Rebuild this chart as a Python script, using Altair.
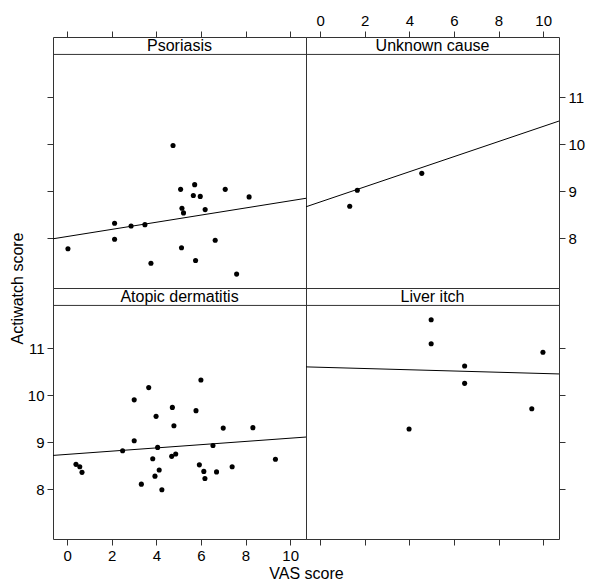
import altair as alt
import pandas as pd

# ---- data ----
pso_vas = [0.04, 2.13, 2.13, 2.87, 3.49, 3.76, 4.75, 5.09, 5.15, 5.22, 5.13,
           5.72, 5.66, 5.97, 6.19, 5.76, 6.64, 7.09, 7.60, 8.16]
pso_act = [7.78, 8.32, 7.98, 8.26, 8.29, 7.47, 9.97, 9.04, 8.64, 8.54, 7.80,
           9.14, 8.91, 8.89, 8.61, 7.53, 7.96, 9.04, 7.24, 8.88]

unk_vas = [1.33, 1.67, 4.56]
unk_act = [8.68, 9.02, 9.38]

ato_vas = [0.40, 0.57, 0.67, 2.49, 3.01, 3.01, 3.33, 3.66, 3.84, 3.99, 3.94,
           4.06, 4.13, 4.25, 4.72, 4.79, 4.69, 4.87, 5.78, 6.00, 5.93, 6.13,
           6.18, 6.54, 6.70, 7.00, 7.40, 8.33, 9.34]
ato_act = [8.53, 8.48, 8.36, 8.82, 9.90, 9.03, 8.11, 10.16, 8.65, 9.55, 8.28,
           8.89, 8.41, 7.99, 9.74, 9.35, 8.70, 8.75, 9.67, 10.32, 8.52, 8.38,
           8.23, 8.93, 8.37, 9.30, 8.48, 9.31, 8.64]

liv_vas = [4.98, 4.98, 3.99, 6.48, 6.48, 9.49, 9.99]
liv_act = [11.60, 11.09, 9.28, 10.62, 10.25, 9.71, 10.91]

# fitted lines: value at the left and right edges of the panel
fit_vas = [-0.63, 10.71]
pso_fit = [7.99, 8.85]
unk_fit = [8.67, 10.49]
ato_fit = [8.72, 9.11]
liv_fit = [10.60, 10.45]

x_ticks = [0, 2, 4, 6, 8, 10]
y_ticks = [8, 9, 10, 11]

X_DOMAIN = [-0.63, 10.71]
Y_DOMAIN = [6.945, 12.275]
STRIP_BOTTOM = 11.905
STRIP_MID = 12.09

W, H = 253, 251
FONT = "Liberation Sans"
FRAME = "#333333"


def axis(orient, labels, title=None, **kw):
    args = dict(orient=orient, labels=labels, ticks=True, tickSize=6,
                tickColor=FRAME, tickWidth=1, domain=False, grid=False,
                labelFont=FONT, labelFontSize=15, labelColor="black",
                labelPadding=3, title=title)
    if title is not None:
        args.update(titleFont=FONT, titleFontSize=16, titleFontWeight="normal",
                    titleColor="black", titlePadding=2)
    args.update(kw)
    return alt.Axis(**args)


def panel(name, vas, act, fit, xaxis, yaxis):
    pts = pd.DataFrame({"VAS": vas, "Act": act})
    ln = pd.DataFrame({"VAS": fit_vas, "Act": fit})
    xs = alt.Scale(domain=X_DOMAIN, nice=False, zero=False)
    ys = alt.Scale(domain=Y_DOMAIN, nice=False, zero=False)
    points = alt.Chart(pts).mark_circle(size=26, color="black", opacity=1).encode(
        x=alt.X("VAS:Q", scale=xs, axis=xaxis),
        y=alt.Y("Act:Q", scale=ys, axis=yaxis),
    )
    line = alt.Chart(ln).mark_line(color="black", strokeWidth=1, clip=True).encode(
        x=alt.X("VAS:Q", scale=xs),
        y=alt.Y("Act:Q", scale=ys),
    )
    lab = pd.DataFrame({"panel": [name]})
    rule = alt.Chart(lab).mark_rule(color=FRAME, strokeWidth=1).encode(
        x=alt.value(0), x2=alt.value(W), y=alt.datum(STRIP_BOTTOM)
    )
    text = alt.Chart(lab).mark_text(font=FONT, fontSize=16, color="black",
                                    baseline="middle", align="center").encode(
        x=alt.value(W / 2), y=alt.datum(STRIP_MID), text="panel:N"
    )
    return alt.layer(points, line, rule, text).properties(width=W, height=H)


tl = panel("Psoriasis", pso_vas, pso_act, pso_fit,
           axis("top", False, values=x_ticks),
           axis("left", False, values=y_ticks))
tr = panel("Unknown cause", unk_vas, unk_act, unk_fit,
           axis("top", True, values=x_ticks),
           axis("right", True, values=y_ticks))
bl = panel("Atopic dermatitis", ato_vas, ato_act, ato_fit,
           axis("bottom", True, title="VAS score", values=x_ticks, titleX=W),
           axis("left", True, title="Actiwatch score", values=y_ticks, titleY=0))
br = panel("Liver itch", liv_vas, liv_act, liv_fit,
           axis("bottom", False, values=x_ticks),
           axis("right", False, values=y_ticks))

chart = alt.concat(tl, tr, bl, br, columns=2, spacing=0, bounds="flush").properties(
    padding={"left": 0, "top": 4, "right": 5, "bottom": 5},
    background="white",
).configure_view(stroke=FRAME, strokeWidth=1)

chart.save("out.html", embed_options={"renderer": "svg", "actions": False})
